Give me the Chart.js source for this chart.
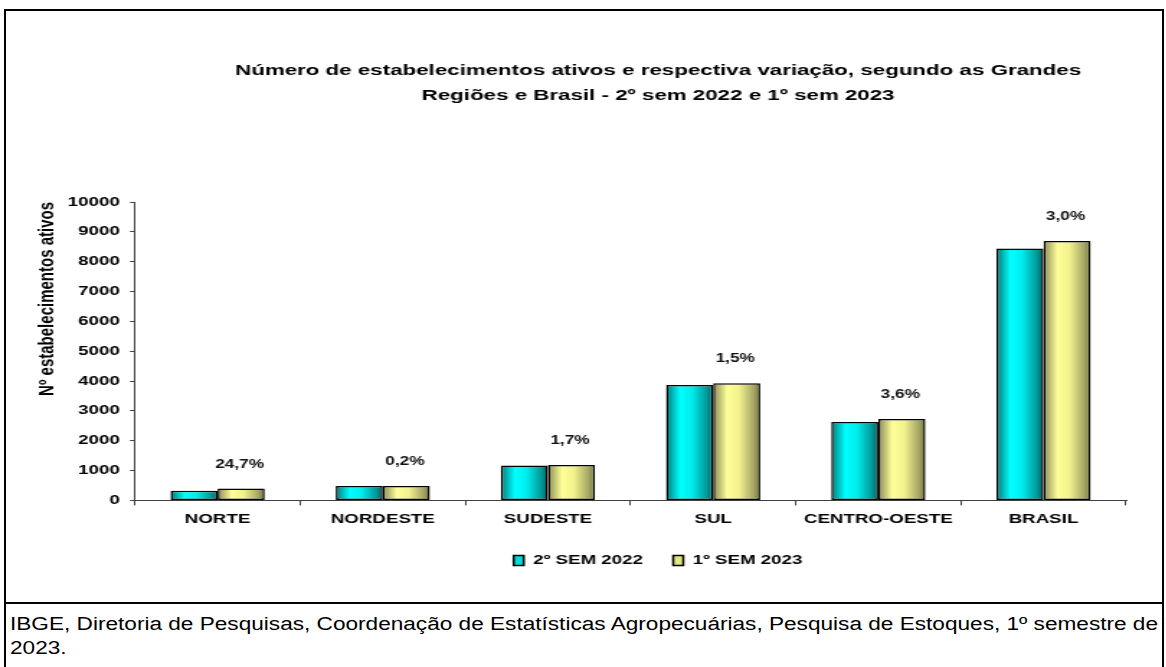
<!DOCTYPE html>
<html lang="pt-BR">
<head>
<meta charset="utf-8">
<title>Estabelecimentos ativos</title>
<script src="https://cdn.jsdelivr.net/npm/chart.js"></script>
<style>
  html, body { margin: 0; padding: 0; background: #fff; overflow: hidden; width: 1166px; height: 667px; }
  .frame { position: absolute; left: 4px; top: 9px; width: 1156px; height: 720px; border: 2px solid #000; }
  .sep { position: absolute; left: 4px; top: 602px; width: 1160px; height: 2px; background: #000; }
  /* the original picture is stretched sideways, so the chart is too */
  .plot { position: absolute; left: 0; top: 12px; width: 914px; height: 588px; transform: scaleX(1.44); transform-origin: 0 0; }
  .source { position: absolute; left: 10px; top: 612px; font: 18px "Liberation Sans", Arial, sans-serif; line-height: 24px; white-space: nowrap; transform-origin: 0 0; color: #000; }
</style>
</head>
<body>
<div class="frame"></div>
<div class="sep"></div>
<div class="plot"><canvas id="myChart"></canvas></div>
<div class="source" id="source"><span id="line1">IBGE, Diretoria de Pesquisas, Coordenação de Estatísticas Agropecuárias, Pesquisa de Estoques, 1º semestre de</span><br>2023.</div>

<script>
const regioes = ["NORTE", "NORDESTE", "SUDESTE", "SUL", "CENTRO-OESTE", "BRASIL"];
const sem2022 = [320, 480, 1170, 3870, 2630, 8440];
const sem2023 = [399, 481, 1190, 3930, 2725, 8695];
const variacao = ["24,7%", "0,2%", "1,7%", "1,5%", "3,6%", "3,0%"];

const FONT = "'Liberation Sans', Arial, sans-serif";

// cylinder look: dark edge, bright band, dark edge
const tealStops = [[0, "#007878"], [0.3, "#00ffff"], [0.55, "#00ecec"], [0.85, "#009c9c"], [1, "#006262"]];
const yellowStops = [[0, "#8a8a56"], [0.3, "#ffff99"], [0.55, "#f2f28e"], [0.85, "#a9a968"], [1, "#77773f"]];

const cylinderBars = {
  id: "cylinderBars",
  beforeDatasetsDraw(chart) {
    const ctx = chart.ctx;
    chart.data.datasets.forEach((ds, i) => {
      const stops = i === 0 ? tealStops : yellowStops;
      chart.getDatasetMeta(i).data.forEach(bar => {
        const { x, width } = bar.getProps(["x", "width"], true);
        const left = x - width / 2;
        const grad = ctx.createLinearGradient(left, 0, left + width, 0);
        stops.forEach(s => grad.addColorStop(s[0], s[1]));
        bar.options = Object.assign({}, bar.options, { backgroundColor: grad });
      });
    });
  }
};

const variationLabels = {
  id: "variationLabels",
  afterDatasetsDraw(chart) {
    const ctx = chart.ctx;
    ctx.save();
    ctx.font = "bold 12px " + FONT;
    ctx.fillStyle = "#111";
    ctx.textAlign = "center";
    ctx.textBaseline = "middle";
    chart.getDatasetMeta(1).data.forEach((bar, i) => {
      ctx.fillText(variacao[i], bar.x - 1, bar.y - 24);
    });
    ctx.restore();
  }
};

const canvas = document.getElementById("myChart");

new Chart(canvas, {
  type: "bar",
  data: {
    labels: regioes,
    datasets: [
      {
        label: "2º SEM 2022",
        data: sem2022,
        backgroundColor: "#00dcdc",
        borderColor: "#000",
        borderWidth: 1.5,
        borderSkipped: false,
      },
      {
        label: "1º SEM 2023",
        data: sem2023,
        backgroundColor: "#e6e680",
        borderColor: "#000",
        borderWidth: 1.5,
        borderSkipped: false,
      },
    ],
  },
  options: {
    responsive: true,
    maintainAspectRatio: false,
    animation: false,
    layout: { padding: { left: 0, right: 0, top: 0, bottom: 23 } },
    datasets: {
      bar: { categoryPercentage: 0.57, barPercentage: 1.0 },
    },
    plugins: {
      title: {
        display: true,
        text: [
          "Número de estabelecimentos ativos e respectiva variação, segundo as Grandes",
          "Regiões e Brasil - 2º sem 2022 e 1º sem 2023",
        ],
        color: "#000",
        font: { family: FONT, size: 15.5, weight: "bold", lineHeight: 25 / 15.5 },
        padding: { top: 46, bottom: 94 },
      },
      legend: {
        position: "bottom",
        labels: {
          color: "#000",
          boxWidth: 7,
          boxHeight: 10,
          padding: 21,
          font: { family: FONT, size: 13, weight: "bold" },
        },
      },
      tooltip: { enabled: false },
    },
    scales: {
      x: {
        grid: { offset: true, drawOnChartArea: false, tickLength: 5, color: "#404040" },
        border: { color: "#404040" },
        ticks: { padding: 6, color: "#000", font: { family: FONT, size: 13, weight: "bold" } },
      },
      y: {
        min: 0,
        max: 10000,
        afterFit(scale) { scale.width = 93.75; },
        grid: { drawOnChartArea: false, tickLength: 3.5, color: "#404040" },
        border: { color: "#404040" },
        ticks: {
          stepSize: 1000,
          padding: 7,
          color: "#000",
          font: { family: FONT, size: 13, weight: "bold" },
          callback: value => String(value),
        },
        title: {
          display: true,
          text: "Nº estabelecimentos ativos",
          align: "end",
          color: "#000",
          font: { family: FONT, size: 15, weight: "bold" },
          padding: { top: 24, bottom: 0 },
        },
      },
      yRight: {
        position: "right",
        afterFit(scale) { scale.width = 132; },
        grid: { display: false },
        border: { display: false },
        ticks: { display: false },
      },
    },
  },
  plugins: [cylinderBars, variationLabels],
});

const src = document.getElementById("source");
const firstLine = document.getElementById("line1");
src.style.transform = "scaleX(" + (1148 / firstLine.getBoundingClientRect().width) + ")";
</script>
</body>
</html>
